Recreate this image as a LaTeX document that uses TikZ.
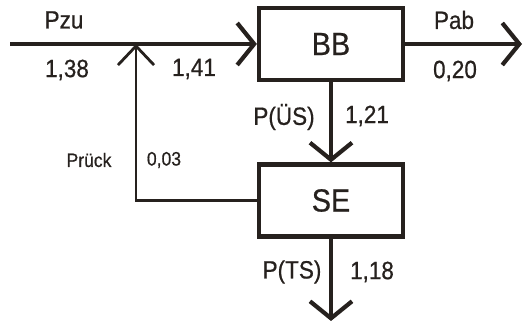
\documentclass[tikz,border=0pt]{standalone}
\usepackage{fontspec}
\setmainfont{Liberation Sans}[FakeStretch=0.9,FakeBold=0.6]
\usetikzlibrary{arrows.meta}
\definecolor{ink}{RGB}{38,33,30}
\begin{document}
\begin{tikzpicture}[x=1pt,y=-1pt,
  every node/.style={text=ink,inner sep=0pt},
  block/.style={draw=ink,line width=4.2pt,minimum width=144pt,minimum height=72pt,
    font=\fontsize{32}{36}\selectfont},
  flow/.style={draw=ink,line width=4.2pt,
    -{Straight Barb[length=17pt,width=42pt,line width=4.2pt]}},
  backflow/.style={draw=ink,line width=2.4pt,
    -{Straight Barb[length=19pt,width=36pt,line width=2.8pt]}},
  val/.style={font=\fontsize{25}{30}\selectfont},
  small/.style={font=\fontsize{19.5}{24}\selectfont}]
\useasboundingbox (0,0) rectangle (525,328);

% blocks
\node[block] (bb) at (331,44) {BB};
\node[block] (se) at (331,200.5) {SE};

% free ends and junction
\coordinate (in) at (10,44);
\coordinate (out) at (522,44);
\coordinate (ts) at (331,321);
\coordinate (j) at (136,44);

% power flows
\draw[flow] (in) -- (bb.west);
\draw[flow] (bb.east) -- (out);
\draw[flow] (bb.south) -- (se.north);
\draw[flow] (se.south) -- (ts);
\draw[backflow] (se.west) -| (j);

% labels
\node[val] (lzu) at (64,20) {Pzu};
\node[val] (v138) at (67,70) {1,38};
\node[val] (v141) at (194,69) {1,41};
\node[val] (lab) at (454,20) {Pab};
\node[val] (v020) at (455,71) {0,20};
\node[val] (lus) at (284,117) {P(ÜS)};
\node[val] (v121) at (367,116) {1,21};
\node[small] (lrk) at (89,160) {Prück};
\node[small] (v003) at (164,160) {0,03};
\node[val] (lts) at (292,272) {P(TS)};
\node[val] (v118) at (372,272) {1,18};
\end{tikzpicture}
\end{document}
